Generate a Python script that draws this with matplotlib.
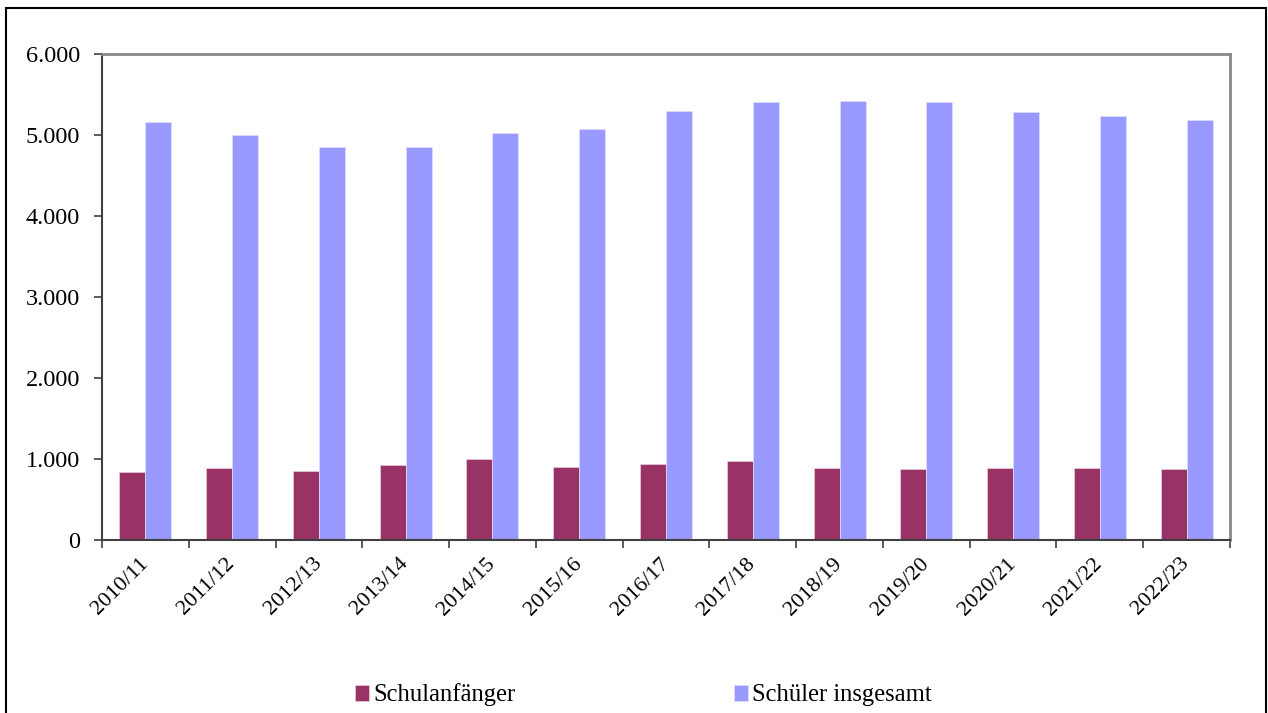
import matplotlib
matplotlib.use("Agg")
import matplotlib.pyplot as plt
from matplotlib.patches import Rectangle
from matplotlib.ticker import FuncFormatter, FixedLocator
import numpy as np

years = ["2010/11", "2011/12", "2012/13", "2013/14", "2014/15", "2015/16", "2016/17",
         "2017/18", "2018/19", "2019/20", "2020/21", "2021/22", "2022/23"]
schulanfaenger = [836, 889, 852, 922, 996, 897, 934, 971, 885, 880, 889, 885, 873]
schueler_insgesamt = [5156, 5000, 4856, 4856, 5020, 5078, 5300, 5402, 5423, 5402, 5279, 5238, 5189]

plt.rcParams['font.family'] = ['Liberation Serif', 'DejaVu Serif']

W, H = 1268, 713
fig = plt.figure(figsize=(W / 100, H / 100), dpi=100)
ax = fig.add_axes([102 / W, 1 - 540 / H, (1230 - 102) / W, (540 - 54) / H])

x = np.arange(len(years))
bw = 0.3
b1 = ax.bar(x - bw / 2, schulanfaenger, width=bw, color="#993366", edgecolor="#e8d0dc",
            linewidth=0.5, label="Schulanfänger", zorder=2)
b2 = ax.bar(x + bw / 2, schueler_insgesamt, width=bw, color="#9999FF", edgecolor="#e0e0ff",
            linewidth=0.5, label="Schüler insgesamt", zorder=2)

ax.set_xlim(-0.5, len(years) - 0.5)
ax.set_ylim(0, 6000)
ax.set_yticks(range(0, 6001, 1000))
ax.yaxis.set_major_formatter(FuncFormatter(lambda v, p: f"{int(v):,}".replace(",", ".")))
ax.tick_params(axis='y', direction='out', length=6, width=1.2, color="#404040",
               labelsize=17.5, pad=10)

ax.set_xticks(x)
ax.set_xticklabels(years, rotation=45, ha='right', va='center', rotation_mode='anchor',
                   fontsize=16)
ax.tick_params(axis='x', which='major', length=0, pad=15)
ax.xaxis.set_minor_locator(FixedLocator(np.arange(-0.5, len(years), 1.0)))
ax.tick_params(axis='x', which='minor', direction='out', length=6, width=1.2, color="#404040")

for s in ['left', 'bottom']:
    ax.spines[s].set_color("#404040")
    ax.spines[s].set_linewidth(1.5)
for s in ['top', 'right']:
    ax.spines[s].set_color("#888888")
    ax.spines[s].set_linewidth(2.0)

leg = fig.legend(handles=[b1, b2], labels=["Schulanfänger", "Schüler insgesamt"],
                 loc='center', bbox_to_anchor=((355 + 932) / 2 / W, 1 - 695 / H),
                 ncol=2, frameon=False, fontsize=17.7, handlelength=0.57, handleheight=0.6,
                 handletextpad=0.16, columnspacing=8.9, borderpad=0, borderaxespad=0)

frame = Rectangle((6 / W, -0.05), (1266 - 6) / W, 1 - 8 / H + 0.05, transform=fig.transFigure,
                  fill=False, edgecolor="black", linewidth=1.5, clip_on=False)
fig.patches.append(frame)

fig.savefig("out.png", dpi=100)
